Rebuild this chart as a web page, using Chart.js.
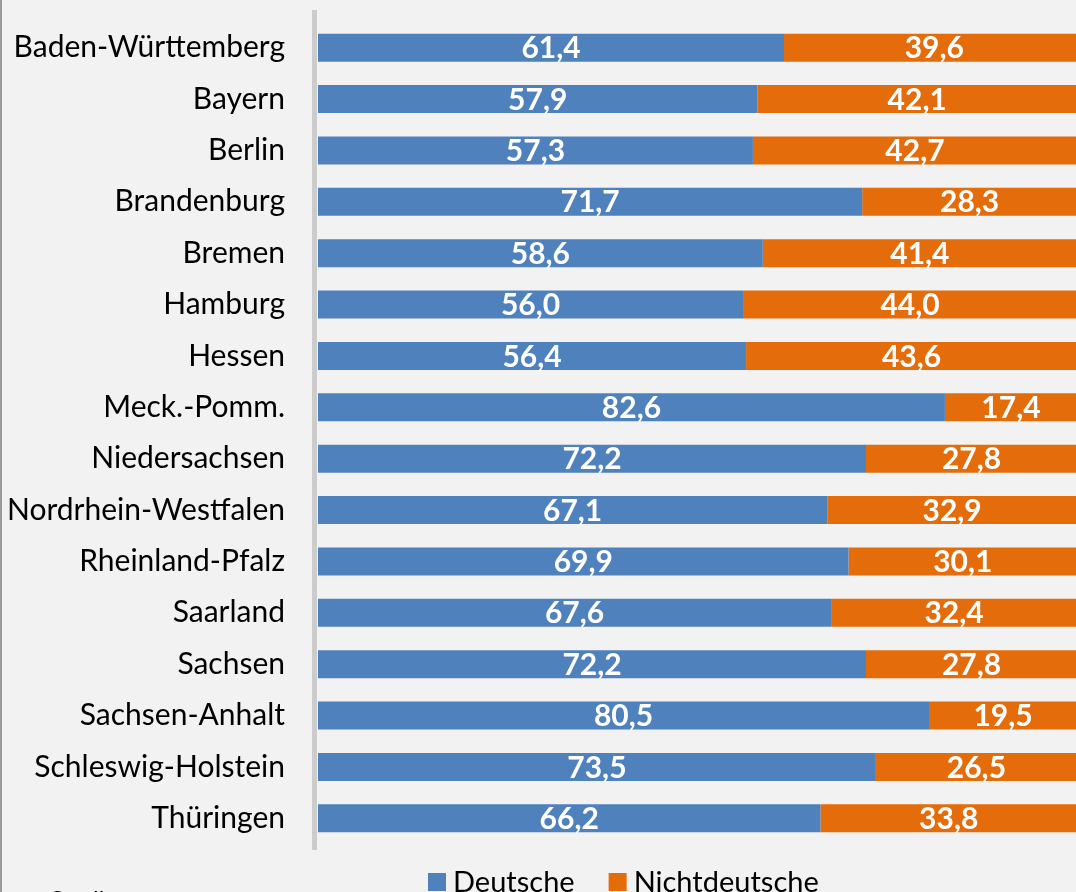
<!DOCTYPE html>
<html>
<head>
<meta charset="utf-8">
<script src="https://cdn.jsdelivr.net/npm/chart.js@4"></script>
<style>
  html, body { margin: 0; padding: 0; background: #f2f2f2; }
  #wrap { position: relative; width: 1076px; height: 892px; overflow: hidden; background: #f2f2f2; }
  #frame { position: absolute; left: 0; top: 0; width: 2px; height: 892px; background: #9a9a9a; }
  #chart { position: absolute; left: 0; top: 0; }
</style>
</head>
<body>
<div id="wrap">
  <canvas id="chart" width="1080" height="892"></canvas>
  <div id="frame"></div>
</div>
<script>
    // Anteil je Bundesland (%)
    const laender = ["Baden-Württemberg", "Bayern", "Berlin", "Brandenburg", "Bremen", "Hamburg",
        "Hessen", "Meck.-Pomm.", "Niedersachsen", "Nordrhein-Westfalen", "Rheinland-Pfalz",
        "Saarland", "Sachsen", "Sachsen-Anhalt", "Schleswig-Holstein", "Thüringen"];
    const deutsche = [61.4, 57.9, 57.3, 71.7, 58.6, 56.0, 56.4, 82.6, 72.2, 67.1, 69.9, 67.6, 72.2, 80.5, 73.5, 66.2];
    const nichtdeutsche = [39.6, 42.1, 42.7, 28.3, 41.4, 44.0, 43.6, 17.4, 27.8, 32.9, 30.1, 32.4, 27.8, 19.5, 26.5, 33.8];

    const blau = "#4f81bd";
    const orange = "#e46c0a";

    function fmt(v) {
        return v.toFixed(1).replace(".", ",");
    }

    // grey vertical axis line left of the bars
    const axisLine = {
        id: "axisLine",
        beforeDatasetsDraw(chart) {
            const c = chart.ctx;
            c.save();
            c.fillStyle = "#cccccc";
            c.fillRect(chart.chartArea.left - 6, 10, 5, 840);
            c.restore();
        }
    };

    // white values in the middle of every segment
    const valueLabels = {
        id: "valueLabels",
        afterDatasetsDraw(chart) {
            const c = chart.ctx;
            c.save();
            c.font = "bold 30px Lato";
            c.fillStyle = "#ffffff";
            c.textAlign = "center";
            c.textBaseline = "middle";
            chart.data.datasets.forEach((ds, i) => {
                chart.getDatasetMeta(i).data.forEach((bar, j) => {
                    const p = bar.getProps(["x", "y", "base"], true);
                    c.fillText(fmt(ds.data[j]), (p.x + p.base) / 2, p.y + 1);
                });
            });
            c.restore();
        }
    };

    // legend below the plot plus source line
    const bottomLegend = {
        id: "bottomLegend",
        afterDraw(chart) {
            const c = chart.ctx;
            c.save();
            c.font = "29px Lato";
            c.textBaseline = "alphabetic";
            let x = 428;
            chart.data.datasets.forEach(ds => {
                c.fillStyle = ds.backgroundColor;
                c.fillRect(x, 873, 18, 18);
                c.fillStyle = "#000000";
                c.fillText(ds.label, x + 25, 892);
                x += 25 + c.measureText(ds.label).width + 34;
            });
            c.font = "24px Lato";
            c.fillText("Quelle:", 48, 908);
            c.restore();
        }
    };

    new Chart(document.getElementById("chart"), {
        type: "bar",
        data: {
            labels: laender,
            datasets: [
                { label: "Deutsche", data: deutsche, backgroundColor: blau },
                { label: "Nichtdeutsche", data: nichtdeutsche, backgroundColor: orange }
            ]
        },
        options: {
            indexAxis: "y",
            responsive: false,
            animation: false,
            layout: { padding: { top: 22, bottom: 48, left: 0, right: 3 } },
            datasets: { bar: { categoryPercentage: 0.545, barPercentage: 1 } },
            scales: {
                x: { stacked: true, min: 0, max: 100, display: false },
                y: {
                    stacked: true,
                    grid: { display: false, drawTicks: false },
                    border: { display: false },
                    ticks: { color: "#000000", font: { family: "Lato", size: 30 }, padding: 33 },
                    afterFit(scale) {
                        scale.width = 318;
                        scale.paddingTop = 0;
                        scale.paddingBottom = 0;
                    }
                }
            },
            plugins: {
                legend: { display: false },
                tooltip: { enabled: false }
            }
        },
        plugins: [axisLine, valueLabels, bottomLegend]
    });
</script>
</body>
</html>
